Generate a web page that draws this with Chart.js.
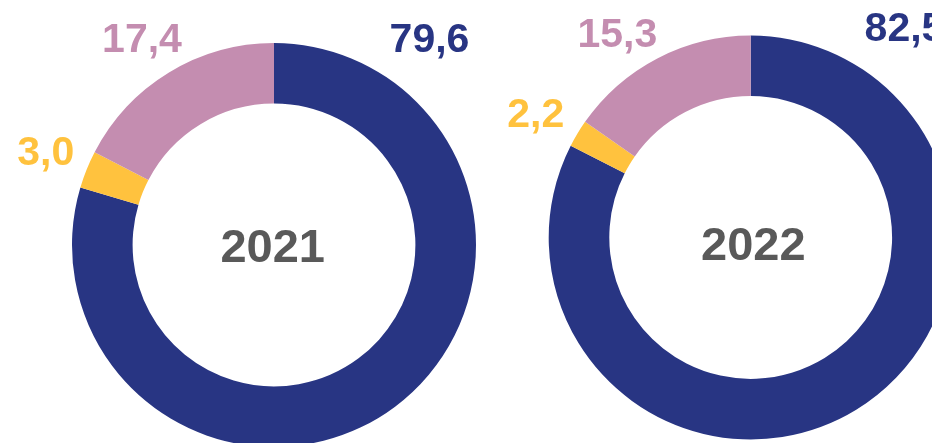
<!DOCTYPE html>
<html>
<head>
<meta charset="utf-8">
<script src="https://cdn.jsdelivr.net/npm/chart.js@4/dist/chart.umd.min.js"></script>
<style>
  html, body { margin: 0; padding: 0; background: #ffffff; width: 932px; height: 443px; overflow: hidden; }
  .wrap { position: absolute; top: 0; }
  canvas { display: block; }
</style>
</head>
<body>
<div class="wrap" style="left:0px"><canvas id="c1" width="480" height="470"></canvas></div>
<div class="wrap" style="left:480px"><canvas id="c2" width="500" height="470"></canvas></div>
<script>
const categories = ['Categoria 1', 'Categoria 2', 'Categoria 3'];
const years = ['2021', '2022'];
const values2021 = [79.6, 3.0, 17.4];
const values2022 = [82.5, 2.2, 15.3];
const colors = ['#283583', '#FFC23E', '#C48DB0'];

const fmt = v => v.toFixed(1).replace('.', ',');

const labelPlugin = {
  id: 'ringLabels',
  afterDraw(chart, args, opts) {
    const ctx = chart.ctx;
    const arc = chart.getDatasetMeta(0).data[0];
    const cx = arc.x, cy = arc.y;
    const data = chart.data.datasets[0].data;
    ctx.save();
    ctx.textAlign = 'center';
    ctx.textBaseline = 'alphabetic';
    ctx.font = 'bold 41px "Liberation Sans", Arial, sans-serif';
    data.forEach((v, i) => {
      const off = opts.offsets[i];
      ctx.fillStyle = colors[i];
      ctx.fillText(fmt(v), cx + off[0], cy + off[1]);
    });
    ctx.font = 'bold 47px "Liberation Sans", Arial, sans-serif';
    ctx.fillStyle = '#595959';
    ctx.fillText(opts.title, cx + opts.titleOffset[0], cy + opts.titleOffset[1]);
    ctx.restore();
  }
};

function makeChart(id, values, title, padding, offsets, titleOffset) {
  return new Chart(document.getElementById(id), {
    type: 'doughnut',
    data: {
      labels: categories,
      datasets: [{
        data: values,
        backgroundColor: colors,
        borderWidth: 0,
        hoverOffset: 0
      }]
    },
    options: {
      responsive: false,
      animation: false,
      devicePixelRatio: 1,
      cutout: '70%',
      rotation: 0,
      layout: { padding: padding },
      plugins: {
        legend: { display: false },
        tooltip: { enabled: false },
        ringLabels: { offsets: offsets, title: title, titleOffset: titleOffset }
      }
    },
    plugins: [labelPlugin]
  });
}

makeChart('c1', values2021, years[0],
  { left: 72, top: 43, right: 4, bottom: 23 },
  [[155.5, -193.3], [-228.2, -80], [-132, -193.3]],
  [-1.3, 16.5]);

makeChart('c2', values2022, years[1],
  { left: 68.7, top: 35.5, right: 27.3, bottom: 30.5 },
  [[153.8, -196.5], [-214.9, -110.8], [-133.4, -190.8]],
  [2.6, 22.5]);
</script>
</body>
</html>
